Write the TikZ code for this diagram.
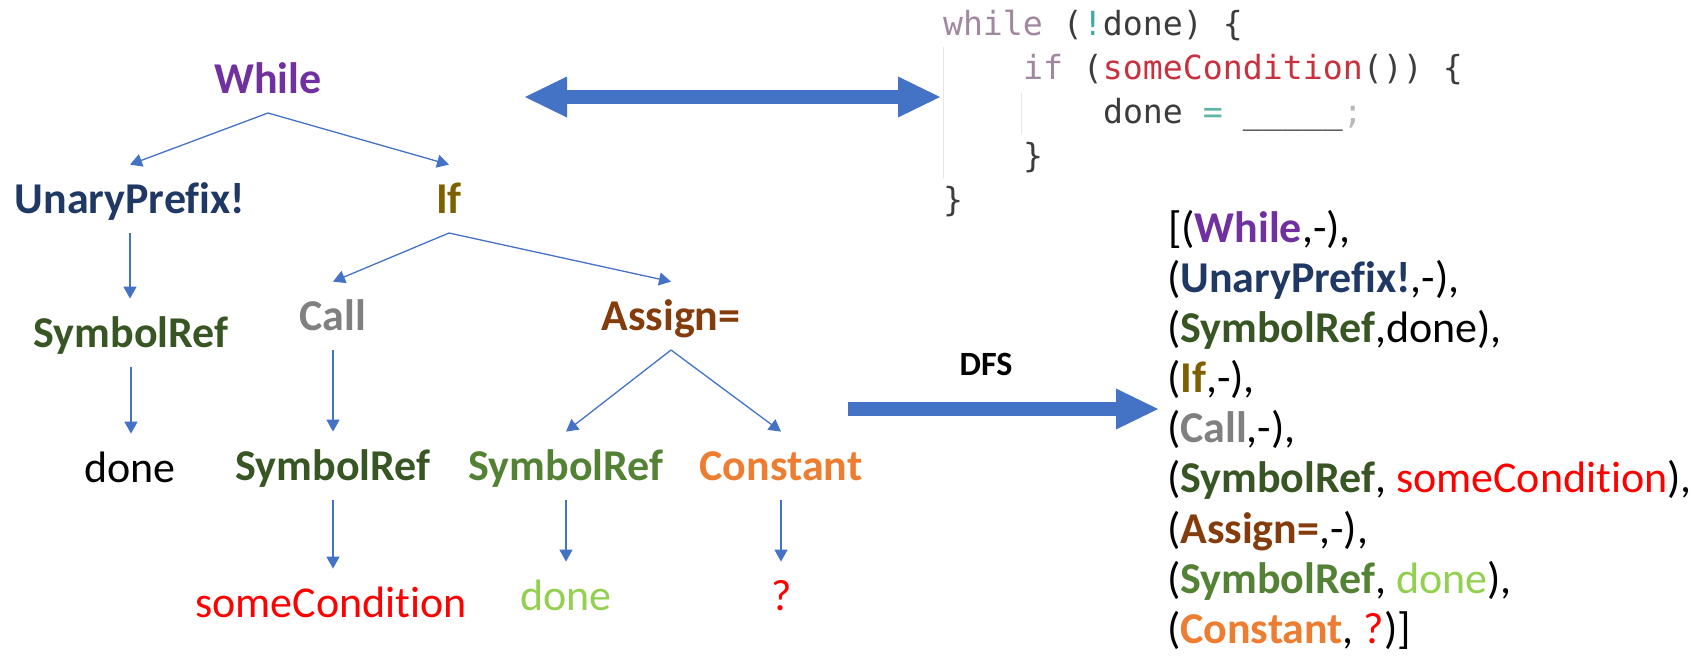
\documentclass[tikz,border=0pt]{standalone}
\usepackage{fontspec}
\setmainfont{Carlito}[Ligatures={NoCommon,NoContextual}]
\newfontfamily\codefont{DejaVu Sans Mono}
\usetikzlibrary{arrows.meta}
\definecolor{ablue}{HTML}{4472C4}
\definecolor{cWhile}{HTML}{7030A0}
\definecolor{cUP}{HTML}{1F3864}
\definecolor{cSR}{HTML}{375623}
\definecolor{cIf}{HTML}{7F6000}
\definecolor{cCall}{HTML}{808080}
\definecolor{cAssign}{HTML}{843C0C}
\definecolor{cSRb}{HTML}{548235}
\definecolor{cConst}{HTML}{ED7D31}
\definecolor{cRed}{HTML}{FF0000}
\definecolor{cDoneB}{HTML}{92D050}
\definecolor{kw}{HTML}{A1879F}
\definecolor{cdark}{HTML}{3C3C3C}
\definecolor{cteal}{HTML}{3FA9A9}
\definecolor{cfun}{HTML}{C8323F}
\definecolor{ceq}{HTML}{5DB5A5}
\definecolor{csemi}{HTML}{B8B8B8}
\definecolor{guide}{HTML}{E6E6E6}
\newcommand\tfs{\fontsize{22pt}{26pt}\selectfont}
\newcommand\cfs{\fontsize{16.6pt}{20pt}\selectfont}
\begin{document}
\begin{tikzpicture}[x=0.5pt,y=-0.5pt,
  lb/.style={font=\tfs\bfseries, text height=14.2pt, text depth=0pt,
    inner xsep=0pt, inner ysep=10pt, outer sep=0pt, anchor=base},
  lf/.style={lb, font=\tfs},
  tarr/.style={draw=ablue, line width=0.65pt,
    -{Triangle[length=6pt,width=6.5pt]}},
  bigarr/.style={draw=ablue, line width=7pt},
  lst/.style={font=\tfs, anchor=base west, inner sep=0pt, outer sep=0pt},
  code/.style={font=\codefont\cfs, text=cdark, anchor=base west, inner sep=0pt, outer sep=0pt}]
\useasboundingbox (0,0) rectangle (1707,655);

% tree
\node[lb, text=cWhile] (while) at (268,93) {While};
\node[lb, text=cUP] (up) at (130,213) {UnaryPrefix!};
\node[lb, text=cIf] (if) at (449,213) {If};
\node[lb, text=cSR] (sr1) at (131,347) {SymbolRef};
\node[lb, text=cCall] (call) at (333,330) {Call};
\node[lb, text=cAssign] (assign) at (671,330) {Assign=};
\node[lf, text=black] (done1) at (130,482) {done};
\node[lb, text=cSR] (sr2) at (333,480) {SymbolRef};
\node[lb, text=cSRb] (sr3) at (566,480) {SymbolRef};
\node[lb, text=cConst] (const) at (781,480) {Constant};
\node[lf, text=cRed] (cond) at (331,617) {someCondition};
\node[lf, text=cDoneB] (done2) at (566,610) {done};
\node[lf, text=cRed] (q) at (782,610) {?};

\draw[tarr] (while.south) -- (up.north);
\draw[tarr] (while.south) -- (if.north);
\draw[tarr] (up.south) -- (up.south |- sr1.north);
\draw[tarr] (if.south) -- (call.north);
\draw[tarr] (if.south) -- (assign.north);
\draw[tarr] (sr1.south) -- (sr1.south |- done1.north);
\draw[tarr] (call.south) -- (call.south |- sr2.north);
\draw[tarr] (assign.south) -- (sr3.north);
\draw[tarr] (assign.south) -- (const.north);
\draw[tarr] (sr2.south) -- (sr2.south |- cond.north);
\draw[tarr] (sr3.south) -- (sr3.south |- done2.north);
\draw[tarr] (const.south) -- (const.south |- q.north);

% code
\draw[guide, line width=0.5pt] (943,47) -- (943,178);
\draw[guide, line width=0.5pt] (1021,93) -- (1021,134);
\node[code] (c1) at (943,35) {\textcolor{kw}{while} (\textcolor{cteal}{!}done) \{};
\node[code] (c2) at (1023,79) {\textcolor{kw}{if} (\textcolor{cfun}{someCondition}()) \{};
\node[code] (c3) at (1103,123) {done \textcolor{ceq}{=} \_\_\_\_\_\textcolor{csemi}{;}};
\node[code] (c4) at (1023,167) {\}};
\node[code] (c5) at (943,211) {\}};

% big arrows
\coordinate (dL) at (525,97);
\coordinate (dR) at (940,97);
\draw[bigarr, {Triangle[length=21pt,width=20.5pt,line width=0pt]}-{Triangle[length=21pt,width=20.5pt,line width=0pt]}] (dL) -- (dR);
\coordinate (fA) at (848,409);
\coordinate (fB) at (1158,409);
\draw[bigarr, -{Triangle[length=21pt,width=20.5pt,line width=0pt]}] (fA) -- (fB);
\node[font=\fontsize{17pt}{20pt}\selectfont\bfseries, anchor=base, inner sep=0pt] (dfs) at (986,375) {DFS};

% list
\node[lst] (l1) at (1168,242) {[({\bfseries\color{cWhile}While},-),};
\node[lst] (l2) at (1167,292) {({\bfseries\color{cUP}UnaryPrefix!},-),};
\node[lst] (l3) at (1167,342) {({\bfseries\color{cSR}SymbolRef},done),};
\node[lst] (l4) at (1167,392) {({\bfseries\color{cIf}If},-),};
\node[lst] (l5) at (1167,442) {({\bfseries\color{cCall}Call},-),};
\node[lst] (l6) at (1167,492) {({\bfseries\color{cSR}SymbolRef}, \textcolor{cRed}{someCondition}),};
\node[lst] (l7) at (1167,543) {({\bfseries\color{cAssign}Assign=},-),};
\node[lst] (l8) at (1167,593) {({\bfseries\color{cSRb}SymbolRef}, \textcolor{cDoneB}{done}),};
\node[lst] (l9) at (1167,643) {({\bfseries\color{cConst}Constant}, \textcolor{cRed}{?})]};
\end{tikzpicture}
\end{document}
